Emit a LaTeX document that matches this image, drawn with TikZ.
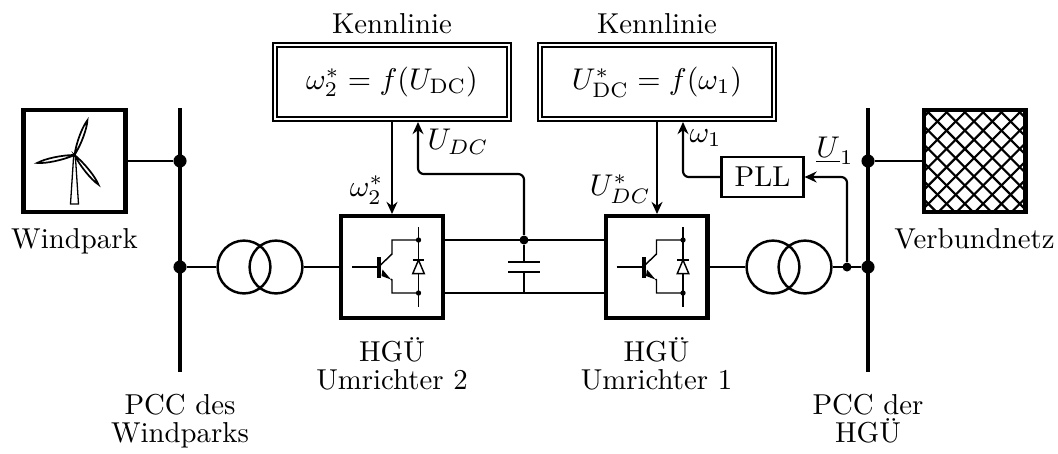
\documentclass[tikz,border=0pt]{standalone}
\usepackage{fix-cm}
\usepackage{amsmath,amssymb}
\usetikzlibrary{arrows.meta, positioning, calc}

\begin{document}
\begin{tikzpicture}[
        x=0.0122cm, y=-0.0122cm,
        txt/.style={align=center, inner sep=0pt, font=\fontsize{10}{9.7}\selectfont},
        mathtxt/.style={align=center, inner sep=0pt, font=\fontsize{10.4}{12}\selectfont},
        heavybox/.style={draw, line width=1.4pt, minimum size=1.245cm, inner sep=0pt},
        kennbox/.style={draw, line width=0.6pt, double, double distance=0.75pt, minimum width=2.86cm, minimum height=0.9cm, inner sep=0pt, font=\fontsize{10.4}{12}\selectfont},
        pllbox/.style={draw, line width=0.75pt, minimum width=1.0cm, minimum height=0.48cm, inner sep=0pt},
        trafo/.style={draw, circle, line width=0.85pt, minimum size=0.645cm, inner sep=0pt},
        busdot/.style={fill, circle, minimum size=0.16cm, inner sep=0pt},
        smalldot/.style={fill, circle, minimum size=0.11cm, inner sep=0pt},
        tinydot/.style={fill, circle, minimum size=0.065cm, inner sep=0pt},
        wire/.style={line width=0.75pt},
        bus/.style={line width=1.45pt},
        thinwire/.style={line width=0.5pt},
        arrow/.style={-{Stealth[length=4.2pt, width=3.8pt]}, line width=0.75pt, rounded corners=2pt}
    ]
        \useasboundingbox (0,0) rectangle (1058,453);

        % sources
        \node[heavybox] (wind) at (74.5,161) {};
        \node[heavybox] (netz) at (974.5,161) {};
        \node[txt, below=0.17cm of wind] (windlabel) {Windpark};
        \node[txt, below=0.17cm of netz] (netzlabel) {Verbundnetz};

        % busbars
        \coordinate (bus2top) at (180,108);
        \coordinate (bus2bot) at (180,372);
        \coordinate (bus1top) at (868,108);
        \coordinate (bus1bot) at (868,372);
        \node[busdot] (dotwind) at (180,161) {};
        \node[busdot] (dottr2) at (180,267) {};
        \node[busdot] (dotnetz) at (868,161) {};
        \node[busdot] (dottr1) at (868,267) {};
        \node[smalldot] (dotpll) at (847,267) {};

        % converters
        \node[heavybox] (umr2) at (392,267) {};
        \node[heavybox] (umr1) at (656.5,267) {};
        \node[txt, below=0.21cm of umr2] (umr2label) {HGÜ\\Umrichter 2};
        \node[txt, below=0.21cm of umr1] (umr1label) {HGÜ\\Umrichter 1};
        \node[txt, below=0.26cm of bus2bot] (bus2label) {PCC des\\Windparks};
        \node[txt, below=0.26cm of bus1bot] (bus1label) {PCC der\\HGÜ};

        % transformers
        \node[trafo] (tr2a) at (244,267) {};
        \node[trafo] (tr2b) at (276,267) {};
        \node[trafo] (tr1a) at (773,267) {};
        \node[trafo] (tr1b) at (805,267) {};

        % control
        \node[kennbox] (kenn2) at (392,82) {$\omega_2^* = f(U_{\mathrm{DC}})$};
        \node[kennbox] (kenn1) at (657,82) {$U_{\mathrm{DC}}^* = f(\omega_1)$};
        \node[txt, above=0.12cm of kenn2] (kenn2label) {Kennlinie};
        \node[txt, above=0.12cm of kenn1] (kenn1label) {Kennlinie};
        \node[pllbox] (pll) at (762.5,177) {PLL};

        % dc link
        \node[smalldot] (dcdot) at (524,240) {};
        \coordinate (dctopl) at (445,240);
        \coordinate (dctopr) at (604,240);
        \coordinate (dcbotl) at (445,293);
        \coordinate (dcbotr) at (604,293);
        \coordinate (dcbotm) at (524,293);
        \coordinate (capa) at (524,262);
        \coordinate (capb) at (524,272);
        \coordinate (dcbend) at (524,174);
        \coordinate (kenn2in) at (418,122);
        \coordinate (kenn1in) at (683,122);
        \coordinate (umr2in) at (392,214);
        \coordinate (umr1in) at (657,214);
        \coordinate (kenn2out) at (392,121);
        \coordinate (kenn1out) at (657,121);

        \draw[bus] (bus2top) -- (bus2bot);
        \draw[bus] (bus1top) -- (bus1bot);

        \draw[wire] (wind) -- (dotwind);
        \draw[wire] (dottr2) -- (tr2a);
        \draw[wire] (tr2b) -- (umr2);
        \draw[wire] (umr1) -- (tr1a);
        \draw[wire] (tr1b) -- (dottr1);
        \draw[wire] (netz) -- (dotnetz);
        \draw[wire] (dctopl) -- (dctopr);
        \draw[wire] (dcbotl) -- (dcbotr);
        \draw[wire] (dcdot) -- (capa);
        \draw[wire] (capb) -- (dcbotm);
        \draw[line width=0.95pt] ($(capa)+(-16,0)$) -- ($(capa)+(16,0)$);
        \draw[line width=0.95pt] ($(capb)+(-16,0)$) -- ($(capb)+(16,0)$);

        \draw[arrow] (kenn2out) -- (umr2in);
        \draw[arrow] (kenn1out) -- (umr1in);
        \draw[arrow] (dcdot) -- (dcbend) -| (kenn2in);
        \draw[arrow] (pll) -| (kenn1in);
        \draw[arrow] (dotpll) |- (pll);

        % signal labels
        \node[mathtxt, left=0.1cm of umr2in, yshift=0.29cm] (w2label) {$\omega_2^*$};
        \node[mathtxt] (udclabel) at (458,142) {$U_{DC}$};
        \node[mathtxt, left=0.07cm of umr1in, yshift=0.3cm] (udcstar) {$U_{DC}^*$};
        \node[mathtxt] (w1label) at (705.5,138) {$\omega_1$};
        \node[mathtxt] (u1label) at (835,151) {$\underline{U}_1$};

        % converter symbol
        \foreach \conv in {umr2,umr1} {
            \begin{scope}[shift={(\conv.center)}]
                \draw[thinwire] (-40,0) -- (-15,0);
                \fill (-15,-10) rectangle (-11,10.5);
                \draw[thinwire] (-11.5,-2) -- (0,-13) -- (0,-27) -- (26.5,-27);
                \draw[thinwire] (-1,12) -- (0,13) -- (0,26) -- (26.5,26);
                \fill (-9.5,2.5) -- (-1,12.5) -- (-10.5,9) -- cycle;
                \draw[thinwire] (26.5,-40) -- (26.5,40);
                \draw[thinwire, fill=white] (26.5,-7) -- (20.7,6.7) -- (32.3,6.7) -- cycle;
                \draw[thinwire] (20.7,-7) -- (32.3,-7);
                \node[tinydot] (\conv top) at (26.5,-27) {};
                \node[tinydot] (\conv bot) at (26.5,26) {};
            \end{scope}
        }

        % turbine
        \begin{scope}[shift={(wind.center)}]
            \draw[line width=0.45pt] (-4,43) -- (4,43) -- (0.8,-6) -- (-0.8,-6) -- cycle;
            \foreach \ang/\len in {69.6/37, 192/38, -51/38} {
                \draw[line width=0.6pt, rotate around={\ang:(0,-6)}]
                    (0,-6) .. controls (12,-8.6) and (\len-8,-8.6) .. (\len,-6)
                    .. controls (\len-8,-3.4) and (12,-3.4) .. cycle;
            }
        \end{scope}

        % grid hatching
        \begin{scope}
            \clip ($(netz.south west)+(2,-2)$) rectangle ($(netz.north east)+(-2,2)$);
            \foreach \c in {-7,...,7} {
                \draw[wire] ($(netz.center)+(-0.5+18.3*\c,-3)+(-120,-120)$) -- ++(240,240);
                \draw[wire] ($(netz.center)+(-0.5+18.3*\c,-3)+(-120,120)$) -- ++(240,-240);
            }
        \end{scope}
        \node[heavybox] (netzframe) at (netz) {};
    \end{tikzpicture}
\end{document}
